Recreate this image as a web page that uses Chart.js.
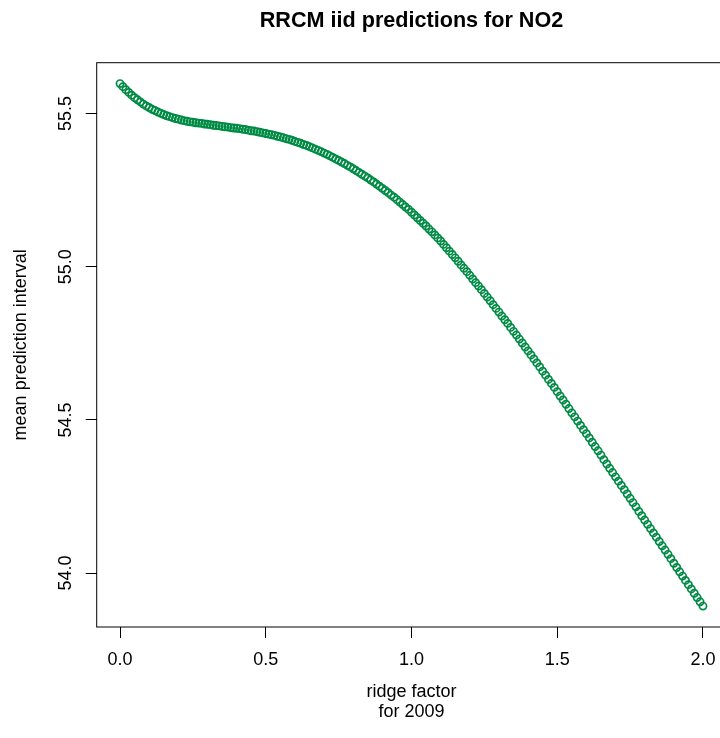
<!DOCTYPE html>
<html><head><meta charset="utf-8">
<script src="https://cdn.jsdelivr.net/npm/chart.js@4.4.1/dist/chart.umd.min.js"></script>
<style>
html,body{margin:0;padding:0;background:#fff;overflow:hidden}
#wrap{width:720px;height:738px;overflow:hidden;position:relative;background:#fff}
canvas{display:block}
</style></head>
<body><div id="wrap"><canvas id="c" width="760" height="738"></canvas></div>
<script>
const chartTitle = 'RRCM iid predictions for NO2';
const xAxisTitle = ['ridge factor', 'for 2009'];
const yAxisTitle = 'mean prediction interval';
const xTicks = [0, 0.5, 1, 1.5, 2];
const xTickLabels = ['0.0', '0.5', '1.0', '1.5', '2.0'];
const yTicks = [54, 54.5, 55, 55.5];
const yTickLabels = ['54.0', '54.5', '55.0', '55.5'];

const ridgeFactor = [
0.00,0.01,0.02,0.03,0.04,0.05,0.06,0.07,0.08,0.09,
0.10,0.11,0.12,0.13,0.14,0.15,0.16,0.17,0.18,0.19,
0.20,0.21,0.22,0.23,0.24,0.25,0.26,0.27,0.28,0.29,
0.30,0.31,0.32,0.33,0.34,0.35,0.36,0.37,0.38,0.39,
0.40,0.41,0.42,0.43,0.44,0.45,0.46,0.47,0.48,0.49,
0.50,0.51,0.52,0.53,0.54,0.55,0.56,0.57,0.58,0.59,
0.60,0.61,0.62,0.63,0.64,0.65,0.66,0.67,0.68,0.69,
0.70,0.71,0.72,0.73,0.74,0.75,0.76,0.77,0.78,0.79,
0.80,0.81,0.82,0.83,0.84,0.85,0.86,0.87,0.88,0.89,
0.90,0.91,0.92,0.93,0.94,0.95,0.96,0.97,0.98,0.99,
1.00,1.01,1.02,1.03,1.04,1.05,1.06,1.07,1.08,1.09,
1.10,1.11,1.12,1.13,1.14,1.15,1.16,1.17,1.18,1.19,
1.20,1.21,1.22,1.23,1.24,1.25,1.26,1.27,1.28,1.29,
1.30,1.31,1.32,1.33,1.34,1.35,1.36,1.37,1.38,1.39,
1.40,1.41,1.42,1.43,1.44,1.45,1.46,1.47,1.48,1.49,
1.50,1.51,1.52,1.53,1.54,1.55,1.56,1.57,1.58,1.59,
1.60,1.61,1.62,1.63,1.64,1.65,1.66,1.67,1.68,1.69,
1.70,1.71,1.72,1.73,1.74,1.75,1.76,1.77,1.78,1.79,
1.80,1.81,1.82,1.83,1.84,1.85,1.86,1.87,1.88,1.89,
1.90,1.91,1.92,1.93,1.94,1.95,1.96,1.97,1.98,1.99,
2.00];

const meanPredictionInterval = [
55.598,55.588,55.578,55.569,55.560,55.552,55.545,55.538,55.531,55.525,
55.520,55.514,55.510,55.505,55.501,55.497,55.493,55.490,55.487,55.484,
55.482,55.479,55.477,55.475,55.473,55.472,55.470,55.469,55.468,55.466,
55.465,55.464,55.462,55.461,55.460,55.458,55.457,55.456,55.454,55.453,
55.452,55.451,55.449,55.448,55.446,55.444,55.443,55.441,55.439,55.437,
55.435,55.433,55.431,55.429,55.426,55.424,55.421,55.418,55.416,55.413,
55.409,55.406,55.403,55.399,55.396,55.392,55.388,55.384,55.380,55.376,
55.371,55.367,55.362,55.357,55.352,55.347,55.342,55.337,55.331,55.326,
55.320,55.314,55.308,55.302,55.296,55.290,55.283,55.277,55.270,55.263,
55.256,55.249,55.242,55.234,55.227,55.219,55.211,55.203,55.195,55.187,
55.178,55.169,55.160,55.151,55.142,55.133,55.123,55.114,55.104,55.094,
55.084,55.073,55.062,55.051,55.040,55.029,55.018,55.006,54.995,54.984,
54.972,54.960,54.948,54.937,54.925,54.913,54.901,54.889,54.876,54.864,
54.852,54.839,54.827,54.815,54.802,54.789,54.777,54.764,54.751,54.738,
54.725,54.712,54.699,54.686,54.673,54.659,54.646,54.632,54.619,54.606,
54.592,54.578,54.565,54.551,54.537,54.523,54.510,54.496,54.482,54.468,
54.455,54.441,54.427,54.413,54.399,54.385,54.370,54.356,54.342,54.328,
54.314,54.300,54.286,54.272,54.258,54.244,54.230,54.216,54.201,54.187,
54.173,54.159,54.145,54.131,54.117,54.103,54.089,54.075,54.061,54.047,
54.032,54.018,54.004,53.990,53.976,53.962,53.948,53.934,53.920,53.906,
53.892];

const FONT = "'Liberation Sans', Arial, Helvetica, sans-serif";
const points = ridgeFactor.map((x, i) => ({ x: x, y: meanPredictionInterval[i] }));

const boxAndTitle = {
  id: 'boxAndTitle',
  afterDraw(chart) {
    const { ctx, chartArea: a } = chart;
    ctx.save();
    ctx.strokeStyle = '#000';
    ctx.lineWidth = 1;
    ctx.strokeRect(a.left, a.top, a.right - a.left, a.bottom - a.top);
    ctx.fillStyle = '#000';
    ctx.font = "bold 21.6px " + FONT;
    ctx.textAlign = 'center';
    ctx.textBaseline = 'middle';
    ctx.fillText(chartTitle, (a.left + a.right) / 2, 21);
    ctx.restore();
  }
};

new Chart(document.getElementById('c'), {
  type: 'scatter',
  data: {
    datasets: [{
      data: points,
      showLine: false,
      pointStyle: 'circle',
      pointRadius: 3.6,
      pointHoverRadius: 3.6,
      pointBorderWidth: 1.7,
      pointBackgroundColor: 'rgba(0,0,0,0)',
      pointBorderColor: '#008B45'
    }]
  },
  options: {
    responsive: false,
    devicePixelRatio: 1,
    animation: false,
    events: [],
    layout: { padding: { top: 62.7, right: 33.7, left: 0, bottom: 0 } },
    plugins: { legend: { display: false }, tooltip: { enabled: false }, title: { display: false } },
    scales: {
      x: {
        type: 'linear',
        min: -0.08, max: 2.08,
        afterFit: s => { s.height = 111; },
        afterBuildTicks: s => { s.ticks = xTicks.map(v => ({ value: v })); },
        grid: { display: true, drawOnChartArea: false, drawTicks: true, tickLength: 11, color: '#000', lineWidth: 1 },
        border: { display: false },
        ticks: {
          autoSkip: false, maxRotation: 0, minRotation: 0, padding: 11, color: '#000',
          font: { family: FONT, size: 18 },
          callback: (v, i) => xTickLabels[i]
        },
        title: {
          display: true, text: xAxisTitle, color: '#000',
          font: { family: FONT, size: 18, lineHeight: 20 / 18 },
          padding: { top: 0, bottom: 16 }
        }
      },
      y: {
        type: 'linear',
        min: 53.8238, max: 55.6662,
        afterFit: s => { s.width = 96.7; },
        afterBuildTicks: s => { s.ticks = yTicks.map(v => ({ value: v })); },
        grid: { display: true, drawOnChartArea: false, drawTicks: true, tickLength: 11, color: '#000', lineWidth: 1 },
        border: { display: false },
        ticks: {
          autoSkip: false, minRotation: 90, maxRotation: 90, crossAlign: 'center', padding: 2, color: '#000',
          font: { family: FONT, size: 18 },
          callback: (v, i) => yTickLabels[i]
        },
        title: {
          display: true, text: yAxisTitle, color: '#000',
          font: { family: FONT, size: 18 },
          padding: { top: 10, bottom: 0 }
        }
      }
    }
  },
  plugins: [boxAndTitle]
});
</script>
</body></html>
